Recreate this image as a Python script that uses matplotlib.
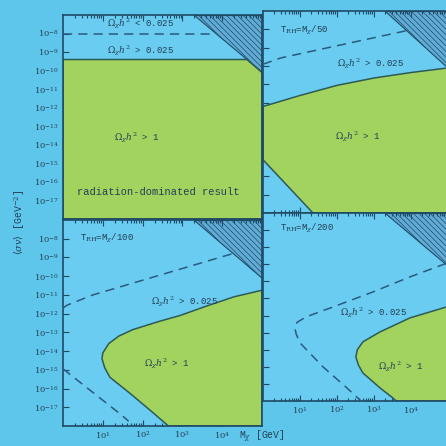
import matplotlib.pyplot as plt
import numpy as np
from matplotlib.ticker import FixedLocator, LogLocator, NullFormatter

plt.rcParams['mathtext.fontset'] = 'dejavuserif'

# everything below is log10 of the value (M in GeV, <sigma v> in GeV^-2)
xlim_log = [0, 5]
ylim_log = [-18, -7]
m_ticks = [1, 2, 3, 4]
sv_ticks = [-8, -9, -10, -11, -12, -13, -14, -15, -16, -17]

# hatched (unitarity) corner, the same in all four panels
unit_logm = [3.3, 5.0, 5.0]
unit_logsv = [-7.0, -7.0, -10.1]

# top left: radiation dominated
tl_green_logm = [0.0, 4.62, 5.0, 5.0, 0.0]
tl_green_logsv = [-9.4, -9.4, -10.1, -18.0, -18.0]
tl_dash_logm = [0.0, 3.8]
tl_dash_logsv = [-8.0, -8.0]

# top right: T_RH = M/50
tr_green_logm = [0.0, 1.0, 2.0, 3.0, 4.0, 5.0, 5.0, 1.35, 0.0]
tr_green_logsv = [-12.2, -11.6, -11.05, -10.65, -10.35, -10.1, -18.0, -18.0, -15.1]
tr_dash_logm = [0.0, 0.49, 3.86]
tr_dash_logsv = [-9.9, -9.55, -8.08]

# bottom left: T_RH = M/100
bl_green_logm = [5.0, 4.3, 3.6, 2.94, 2.44, 1.76, 1.4, 1.15, 1.0, 0.98, 1.05, 1.18,
                 1.68, 2.19, 2.65, 5.0]
bl_green_logsv = [-10.75, -11.1, -11.6, -12.1, -12.4, -12.85, -13.2, -13.6, -14.1, -14.4,
                  -14.9, -15.4, -16.25, -17.16, -18.0, -18.0]
bl_dash1_logm = [0.0, 0.1, 0.75, 4.32]
bl_dash1_logsv = [-11.7, -11.55, -11.0, -8.76]
bl_dash2_logm = [0.0, 1.48, 1.65]
bl_dash2_logsv = [-14.95, -17.43, -17.75]

# bottom right: T_RH = M/200
br_green_logm = [5.0, 3.97, 3.16, 2.7, 2.55, 2.51, 2.58, 2.7, 3.16, 3.51, 3.6, 5.0]
br_green_logsv = [-12.47, -13.14, -13.96, -14.54, -15.0, -15.42, -15.9, -16.36, -17.23,
                  -17.82, -18.0, -18.0]
br_dash_logm = [4.95, 3.97, 2.97, 1.89, 1.16, 0.92, 0.86, 0.9, 1.0, 1.62, 2.24, 2.65]
br_dash_logsv = [-9.95, -10.74, -11.62, -12.5, -13.08, -13.4, -13.73, -14.1, -14.6, -16.0,
                 -17.18, -18.0]

bg = '#5ec6ea'
panel_bg = '#69ccf0'
green = '#a3d35f'
hatch_bg = '#60acd6'
ink = '#1f4a66'
txt = '#223f55'

plt.rcParams['hatch.linewidth'] = 0.5
plt.rcParams['hatch.color'] = '#3a78a4'

fig = plt.figure(figsize=(4.46, 4.46), dpi=100, facecolor=bg)

W = 446.0
def rect(x0, y0, x1, y1):
    return [x0 / W, 1 - y1 / W, (x1 - x0) / W, (y1 - y0) / W]

ax_tl = fig.add_axes(rect(63, 15, 262, 219))
ax_tr = fig.add_axes(rect(263, 11, 448, 213))
ax_bl = fig.add_axes(rect(63, 220, 262, 426))
ax_br = fig.add_axes(rect(263, 213, 448, 401))

omega = r'$\Omega_\chi h^2$'


def setup(ax, left_labels, bottom_labels):
    ax.set_facecolor(panel_bg)
    ax.set_xscale('log')
    ax.set_yscale('log')
    ax.set_xlim(10.0 ** xlim_log[0], 10.0 ** xlim_log[1])
    ax.set_ylim(10.0 ** ylim_log[0], 10.0 ** ylim_log[1])
    ax.xaxis.set_major_locator(FixedLocator([10.0 ** t for t in m_ticks]))
    ax.xaxis.set_minor_locator(LogLocator(base=10, subs=np.arange(2, 10), numticks=20))
    ax.xaxis.set_minor_formatter(NullFormatter())
    ax.yaxis.set_major_locator(FixedLocator([10.0 ** t for t in sv_ticks]))
    ax.yaxis.set_minor_locator(FixedLocator([]))
    ax.set_xticklabels(['$10^{%d}$' % t for t in m_ticks])
    ax.set_yticklabels(['$10^{%d}$' % t for t in sv_ticks])
    ax.tick_params(which='both', direction='in', color=ink, width=0.8,
                   labelsize=6, labelcolor=txt, pad=3, top=True)
    ax.tick_params(which='major', length=4)
    ax.tick_params(which='minor', length=2)
    ax.tick_params(labelleft=left_labels, labelbottom=bottom_labels)
    for s in ax.spines.values():
        s.set_color(ink)
        s.set_linewidth(1.2)
    ax.fill(10.0 ** np.array(unit_logm), 10.0 ** np.array(unit_logsv),
            facecolor=hatch_bg, edgecolor=ink, linewidth=0.8,
            hatch='\\\\\\\\\\\\', zorder=1)


def green_region(ax, lm, ls):
    ax.fill(10.0 ** np.array(lm), 10.0 ** np.array(ls), facecolor=green,
            edgecolor='#2d5a55', linewidth=1.1, zorder=2)


def dashed(ax, lm, ls):
    ax.plot(10.0 ** np.array(lm), 10.0 ** np.array(ls), color='#2a5a80',
            linewidth=1.1, dashes=(6, 4), zorder=3)


def label(ax, x, y, s, ha='center'):
    ax.text(x, y, s, transform=ax.transAxes, ha=ha, va='center', fontsize=6.5,
            color=txt, family='Liberation Mono', zorder=4)


# top left
setup(ax_tl, True, False)
green_region(ax_tl, tl_green_logm, tl_green_logsv)
dashed(ax_tl, tl_dash_logm, tl_dash_logsv)
label(ax_tl, 0.39, 0.955, omega + ' < 0.025')
label(ax_tl, 0.39, 0.825, omega + ' > 0.025')
label(ax_tl, 0.37, 0.40, omega + ' > 1')
ax_tl.text(0.07, 0.13, 'radiation-dominated result', transform=ax_tl.transAxes,
           ha='left', va='center', fontsize=7.5, color=txt, family='Liberation Mono', zorder=4)

# top right
setup(ax_tr, False, False)
green_region(ax_tr, tr_green_logm, tr_green_logsv)
dashed(ax_tr, tr_dash_logm, tr_dash_logsv)
label(ax_tr, 0.09, 0.905, r'T$_{\rm RH}$=M$_\chi$/50', ha='left')
label(ax_tr, 0.58, 0.74, omega + ' > 0.025')
label(ax_tr, 0.51, 0.375, omega + ' > 1')

# bottom left
setup(ax_bl, True, True)
green_region(ax_bl, bl_green_logm, bl_green_logsv)
dashed(ax_bl, bl_dash1_logm, bl_dash1_logsv)
dashed(ax_bl, bl_dash2_logm, bl_dash2_logsv)
label(ax_bl, 0.085, 0.91, r'T$_{\rm RH}$=M$_\chi$/100', ha='left')
label(ax_bl, 0.61, 0.605, omega + ' > 0.025')
label(ax_bl, 0.52, 0.30, omega + ' > 1')

# bottom right
setup(ax_br, False, True)
green_region(ax_br, br_green_logm, br_green_logsv)
dashed(ax_br, br_dash_logm, br_dash_logsv)
label(ax_br, 0.09, 0.92, r'T$_{\rm RH}$=M$_\chi$/200', ha='left')
label(ax_br, 0.595, 0.47, omega + ' > 0.025')
label(ax_br, 0.745, 0.18, omega + ' > 1')

fig.text(20 / W, 1 - 222 / W, r'$\langle\sigma v\rangle$ [GeV$^{-2}$]', rotation=90,
         ha='center', va='center', fontsize=7, color=txt, family='Liberation Mono')
fig.text(262 / W, 1 - 437 / W, r'M$_\chi$ [GeV]', ha='center', va='center',
         fontsize=7, color=txt, family='Liberation Mono')

fig.savefig('out.png', dpi=100, facecolor=bg)
